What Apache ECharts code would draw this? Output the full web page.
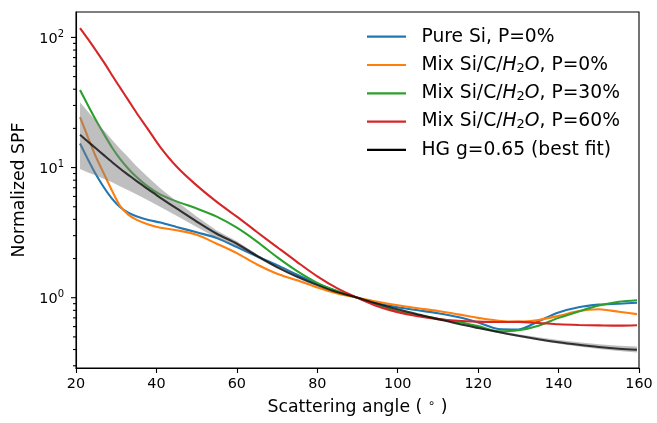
<!DOCTYPE html>
<html><head><meta charset="utf-8">
<script src="https://cdn.jsdelivr.net/npm/echarts@6.0.0/dist/echarts.min.js"></script>
<style>html,body{margin:0;padding:0;background:#fff}#c{width:657px;height:423px}</style>
</head><body><div id="c"></div>
<script>
const angles   = [21,23,25,27,29,31,33,35,38,41,45,50,55,60,65,70,75,80,85,90,95,100,105,110,115,120,125,130,135,140,145,150,155,159.5];
const pureSi   = [15.3,11.5,8.8,7.0,5.75,4.95,4.5,4.22,3.95,3.78,3.5,3.18,2.88,2.45,2.08,1.78,1.5,1.28,1.12,1.0,0.905,0.845,0.8,0.76,0.71,0.645,0.575,0.57,0.66,0.77,0.845,0.885,0.9,0.915];
const mixP0    = [24.4,17.0,12.0,8.9,6.6,5.05,4.35,3.98,3.65,3.45,3.3,3.05,2.6,2.2,1.8,1.53,1.36,1.2,1.08,1.0,0.93,0.875,0.83,0.79,0.745,0.7,0.665,0.655,0.675,0.725,0.79,0.815,0.78,0.748];
const mixP30   = [39.5,30,23,18,14.2,11.6,9.8,8.5,7.1,6.2,5.5,4.85,4.2,3.45,2.7,2.05,1.6,1.3,1.12,1.0,0.87,0.79,0.735,0.69,0.65,0.605,0.552,0.562,0.61,0.70,0.785,0.87,0.93,0.955];
const mixP60   = [118,97,79,64,51,41,33,26.5,19.5,14.3,10.2,7.3,5.45,4.2,3.2,2.45,1.88,1.46,1.18,1.0,0.86,0.775,0.72,0.685,0.665,0.655,0.65,0.652,0.64,0.625,0.617,0.613,0.61,0.615];
const hgFit    = [17.9,15.8,14.0,12.4,11.0,9.8,8.8,7.9,6.8,5.85,4.85,3.85,3.1,2.6,2.1,1.72,1.45,1.25,1.1,1.0,0.9,0.815,0.745,0.685,0.63,0.585,0.545,0.51,0.48,0.455,0.435,0.418,0.405,0.398];
const bandLower= [9.76,9.16,8.68,8.18,7.7,7.15,6.69,6.24,5.58,4.97,4.27,3.5,2.88,2.47,2.03,1.68,1.43,1.24,1.097,1.0,0.898,0.811,0.74,0.679,0.623,0.577,0.536,0.5,0.469,0.443,0.422,0.404,0.39,0.38];
const bandUpper= [31.7,26.9,22.7,19.2,16.3,13.9,12.0,10.3,8.4,6.9,5.5,4.2,3.29,2.72,2.16,1.75,1.47,1.26,1.10,1.0,0.902,0.819,0.751,0.693,0.640,0.597,0.559,0.525,0.497,0.473,0.455,0.439,0.427,0.422];
const seriesNames = ['Pure Si, P=0%','Mix Si/C/H2O, P=0%','Mix Si/C/H2O, P=30%','Mix Si/C/H2O, P=60%','HG g=0.65 (best fit)'];
const yMajorTicks = [1,10,100];
const yMinorTicks = [0.3,0.4,0.5,0.6,0.7,0.8,0.9,2,3,4,5,6,7,8,9,20,30,40,50,60,70,80,90];

const FONT = 'DejaVu Sans';
const zip = (xs, ys) => xs.map((x, i) => [x, ys[i]]);
const colors = ['#1f77b4','#ff7f0e','#2ca02c','#d62728','#000000'];
const curves = [pureSi, mixP0, mixP30, mixP60];
const SMOOTH = 0.3;

function lineSeries(name, ys, color, z, lineColor) {
  return {
    name, type: 'line', data: zip(angles, ys), color,
    symbol: 'none', showSymbol: false, smooth: SMOOTH,
    lineStyle: { width: 2.1, color: lineColor || color }, z, silent: true
  };
}
function tickSeries(vals, len) {
  return {
    type: 'custom', silent: true, clip: false, z: 10,
    data: vals.map(v => [20, v]),
    renderItem: (params, api) => {
      const p = api.coord([api.value(0), api.value(1)]);
      return { type: 'line', shape: { x1: p[0] - len, y1: p[1], x2: p[0], y2: p[1] },
               style: { stroke: '#000', lineWidth: 1.1 } };
    }
  };
}

const series = curves.map((c, i) => lineSeries(seriesNames[i], c, colors[i], 2));
series.push({
  type: 'custom', silent: true, z: 3,
  data: angles.map((a, i) => [a, bandLower[i], bandUpper[i]]),
  encode: { x: 0, y: [1, 2] },
  renderItem: (params, api) => {
    if (params.dataIndex !== 0) return { type: 'group', children: [] };
    const up = angles.map((a, i) => api.coord([a, bandUpper[i]]));
    const lo = angles.map((a, i) => api.coord([a, bandLower[i]])).reverse();
    return { type: 'polygon', shape: { points: up.concat(lo), smooth: 0 },
             style: { fill: 'rgba(128,128,128,0.5)', stroke: null } };
  }
});
series.push(lineSeries(seriesNames[4], hgFit, '#000000', 4, 'rgba(0,0,0,0.75)'));
series.push(tickSeries(yMajorTicks, 5));
series.push(tickSeries(yMinorTicks, 3));

function legendFmt(name) {
  return '{pad| }' + name.replace('H2O', '{i|H}{sub|2}{i|O}');
}

const chart = echarts.init(document.getElementById('c'), null, { renderer: 'canvas' });
chart.setOption({
  animation: false,
  backgroundColor: '#fff',
  textStyle: { fontFamily: FONT },
  grid: { left: 76, right: 18, top: 12, bottom: 51.3, show: true, borderColor: '#000', borderWidth: 1.1, containLabel: false },
  xAxis: {
    type: 'value', min: 20, max: 160, interval: 20,
    name: 'Scattering angle ( {sup|\u2218} )', nameLocation: 'middle', nameGap: 30,
    nameTextStyle: { fontFamily: FONT, fontSize: 17.3, color: '#000', lineHeight: 20,
      rich: { sup: { fontFamily: FONT, fontSize: 12, lineHeight: 10, verticalAlign: 'top', color: '#000' } } },
    axisLine: { show: true, lineStyle: { color: '#000', width: 1.1 } },
    axisTick: { show: true, length: 5, inside: false, lineStyle: { color: '#000', width: 1.1 } },
    axisLabel: { fontFamily: FONT, fontSize: 14.4, color: '#000', margin: 9 },
    splitLine: { show: false }
  },
  yAxis: {
    type: 'log', logBase: 10, min: 0.2884, max: 156.8,
    name: 'Normalized SPF', nameLocation: 'middle', nameGap: 46,
    nameTextStyle: { fontFamily: FONT, fontSize: 17.3, color: '#000' },
    axisLine: { show: true, lineStyle: { color: '#000', width: 1.1 } },
    axisTick: { show: false },
    axisLabel: {
      fontFamily: FONT, fontSize: 14.4, color: '#000', margin: 12, showMinLabel: true, showMaxLabel: true,
      formatter: v => {
        const e = Math.log10(v);
        if (Math.abs(e - Math.round(e)) > 1e-6) return '';
        return '{b|10}{s|' + Math.round(e) + '}';
      },
      rich: {
        b: { fontFamily: FONT, fontSize: 14.4, color: '#000', lineHeight: 17, verticalAlign: 'bottom' },
        s: { fontFamily: FONT, fontSize: 10, color: '#000', lineHeight: 13, verticalAlign: 'top' }
      }
    },
    splitLine: { show: false }, minorTick: { show: false }
  },
  legend: {
    orient: 'vertical', left: 367, top: 26.7, padding: 0, itemGap: 8.3,
    itemWidth: 39, itemHeight: 2.2, icon: 'rect', selectedMode: false,
    data: seriesNames.map((n, i) => ({ name: n, itemStyle: { color: colors[i] } })),
    formatter: legendFmt,
    textStyle: {
      fontFamily: FONT, fontSize: 18.7, color: '#000', lineHeight: 20,
      rich: {
        pad: { width: 10.5, fontSize: 18.7, lineHeight: 20 },
        i: { fontFamily: FONT, fontStyle: 'italic', fontSize: 18.7, lineHeight: 20, color: '#000' },
        sub: { fontFamily: FONT, fontSize: 13, lineHeight: 14, verticalAlign: 'bottom', color: '#000' }
      }
    }
  },
  series
});
</script></body></html>
